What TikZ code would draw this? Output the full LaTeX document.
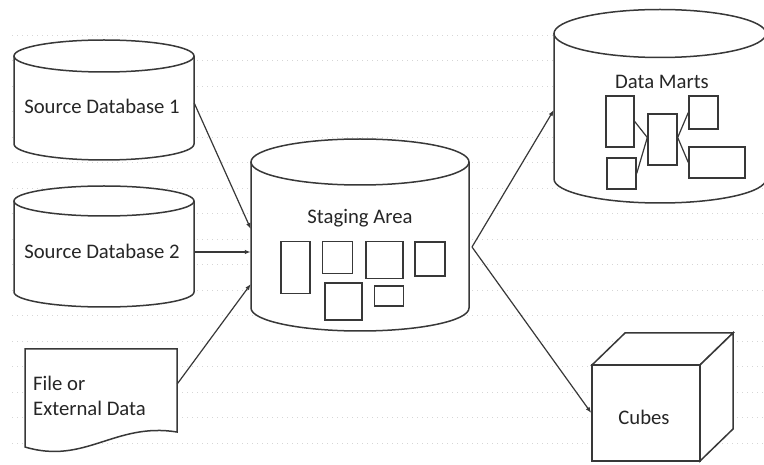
\documentclass[tikz,border=0pt]{standalone}
\usepackage{fontspec}
\setmainfont{Carlito}
\usetikzlibrary{arrows.meta}
\definecolor{ink}{HTML}{383838}
\definecolor{txt}{HTML}{262626}
\newcommand{\mycyl}[5]{% cx rx ytop ybot ry
  \draw[shapeline, fill=white] ({#1-#2},#3) -- ({#1-#2},#4) arc[start angle=180,end angle=360,x radius=#2pt,y radius=#5pt] -- ({#1+#2},#3);
  \draw[shapeline, fill=white] (#1,#3) ellipse[x radius=#2pt, y radius=#5pt];
}
\begin{document}
\begin{tikzpicture}[x=1pt,y=1pt,
  shapeline/.style={draw=ink, line width=1.5pt},
  inbox/.style={draw=ink, line width=1.4pt, rectangle, inner sep=0pt, fill=white},
  body/.style={rectangle, inner sep=0pt},
  lbl/.style={text=txt, font=\fontsize{20.7}{25}\selectfont, inner sep=0pt},
  arr/.style={draw=ink, line width=1.2pt, -{Latex[length=6pt,width=4.5pt]}},
  link/.style={draw=ink, line width=1.2pt},
  grid/.style={draw=black!16, line width=0.8pt, dash pattern=on 1pt off 4pt}]
\useasboundingbox (0,0) rectangle (764,464);
\fill[white] (0,0) rectangle (764,464);
% faint dotted background lines
\foreach \yy in {21,47,72,98,123,149,174,200,225,251,276,302,327,353,378,404,429}
  \draw[grid] (12,\yy) -- (764,\yy);

% Source Database 1
\mycyl{104}{90}{408}{320}{16}
\node[body, minimum width=180pt, minimum height=88pt] (sd1) at (104,364) {};
\node[lbl] (sd1t) at (102,358) {Source Database 1};

% Source Database 2
\mycyl{104}{90}{263}{172}{15}
\node[body, minimum width=180pt, minimum height=91pt] (sd2) at (104,217.5) {};
\node[lbl] (sd2t) at (102,213) {Source Database 2};

% File or External Data
\draw[shapeline, fill=white] (25,115) -- (177,115) -- (177,32)
  .. controls (115,42) and (85,-1) .. (25,17) -- cycle;
\node[body, minimum width=152pt, minimum height=83pt] (file) at (101,73.5) {};
\node[lbl, align=left, anchor=west] (filet) at (33,68.5) {File or\\External Data};

% Staging Area
\mycyl{360}{109}{302}{156}{23}
\node[body, minimum width=218pt, minimum height=146pt] (stage) at (360,229) {};
\node[lbl] (staget) at (360,246) {Staging Area};
\node[inbox, minimum width=29pt, minimum height=51.5pt] (s1) at (295.5,196.5) {};
\node[inbox, minimum width=29.5pt, minimum height=31.5pt] (s2) at (337.5,206.5) {};
\node[inbox, minimum width=37pt, minimum height=36.5pt] (s3) at (384.5,204) {};
\node[inbox, minimum width=30pt, minimum height=34pt] (s4) at (430,205) {};
\node[inbox, minimum width=37pt, minimum height=37pt] (s5) at (343.5,162.5) {};
\node[inbox, minimum width=29.5pt, minimum height=20pt] (s6) at (389,168) {};

% Data Marts
\mycyl{660}{106}{430.5}{285}{24}
\node[body, minimum width=212pt, minimum height=145.5pt] (dm) at (660,357.75) {};
\node[lbl] (dmt) at (662,382) {Data Marts};
\node[inbox, minimum width=28pt, minimum height=51pt] (ma) at (620,342.5) {};
\node[inbox, minimum width=29pt, minimum height=51pt] (mb) at (662.5,324.5) {};
\node[inbox, minimum width=29pt, minimum height=33pt] (mc) at (703.5,351.5) {};
\node[inbox, minimum width=56pt, minimum height=31pt] (md) at (717,301.5) {};
\node[inbox, minimum width=29pt, minimum height=31pt] (me) at (621.5,290.5) {};
\draw[link] (ma.east) -- ([yshift=2pt]mb.west);
\draw[link] (me.east) -- ([yshift=2pt]mb.west);
\draw[link] ([yshift=2pt]mb.east) -- (mc.west);
\draw[link] ([yshift=2pt]mb.east) -- (md.west);

% Cubes
\draw[shapeline, fill=white] (592,99) -- (625,131) -- (733,131) -- (700,99) -- cycle;
\draw[shapeline, fill=white] (700,99) -- (733,131) -- (733,35) -- (700,3) -- cycle;
\node[body, draw=ink, line width=1.5pt, fill=white, minimum width=108pt, minimum height=96pt] (cube) at (646,51) {};
\node[lbl] (cubet) at (644,47) {Cubes};

% connectors
\coordinate (fork) at (472,217);
\draw[arr] ([yshift=-3pt]sd1.east) -- ([yshift=6pt]stage.west);
\draw[arr] ([yshift=-5.5pt]sd2.east) -- ([yshift=-17pt]stage.west);
\draw[arr] ([yshift=6.5pt]file.east) -- ([yshift=-49pt]stage.west);
\draw[arr] (fork) -- ([yshift=-3.75pt]dm.west);
\draw[arr] (fork) -- (cube.west);
\end{tikzpicture}
\end{document}
